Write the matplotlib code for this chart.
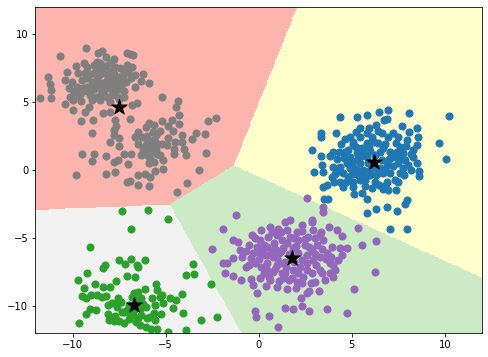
import numpy as np
import matplotlib
matplotlib.use("Agg")
import matplotlib.pyplot as plt
from matplotlib.colors import ListedColormap

# cluster centres (stars)
centers = [(-7.53, 4.62), (6.19, 0.61), (1.77, -6.52), (-6.69, -9.96)]
point_colors = ['tab:gray', 'tab:blue', 'tab:purple', 'tab:green']
region_colors = ['#fbb4ae', '#ffffcc', '#ccebc5', '#f2f2f2']

# points, one list per cluster
gray_pts = [
    (-10.70, 8.41), (-11.74, 5.29), (-11.16, 5.29), (-11.16, 5.90), (-11.2, 6.34), (-11.32, 6.88),
    (-9.27, 8.97), (-8.66, 8.61), (-8.41, 8.80), (-8.19, 8.31), (-7.80, 8.16), (-7.08, 8.61),
    (-6.78, 8.48), (-6.94, 8.56), (-6.19, 7.08), (-5.92, 6.44), (-6.31, 6.56), (-6.67, 6.10),
    (-6.87, 6.76), (-10.32, 7.23), (-9.73, 7.18), (-10.43, 6.64), (-10.21, 6.02), (-10.43, 4.84),
    (-9.95, 4.40), (-9.98, 5.16), (-9.55, 5.11), (-9.12, 4.62), (-9.34, 4.30), (-9.53, 3.64),
    (-8.91, 3.69), (-8.94, 2.70), (-8.37, 4.18), (-7.98, 4.30), (-7.48, 5.21), (-6.82, 4.79),
    (-6.55, 4.92), (-6.94, 3.76), (-7.71, 3.69), (-7.66, 3.25), (-7.75, 2.95), (-7.76, 2.61),
    (-5.19, 5.36), (-4.35, 5.11), (-4.44, 4.62), (-4.28, 4.06), (-4.68, 3.69), (-4.26, 3.39),
    (-5.19, 3.59), (-2.75, 3.61), (-2.27, 3.81), (-2.91, 2.66), (-3.36, 2.70), (-3.58, 2.26),
    (-4.13, 2.58), (-4.63, 2.90), (-4.88, 2.34), (-4.49, 2.04), (-3.99, 1.52), (-3.92, 1.11),
    (-4.54, 1.18), (-4.56, 1.52), (-2.81, 1.23), (-3.20, -0.02), (-3.86, -0.93), (-4.37, -1.65),
    (-5.12, 0.05), (-5.16, 0.74), (-5.44, 1.18), (-5.21, 1.92), (-5.58, -0.05), (-5.85, -0.54),
    (-6.10, -0.30), (-6.48, -0.37), (-5.87, -1.18), (-6.46, -1.11), (-6.91, -0.79), (-7.05, -0.86),
    (-7.03, 0.42), (-6.85, 1.18), (-7.26, 1.18), (-7.57, 0.76), (-7.78, 0.61), (-8.18, 1.06),
    (-7.74, -0.12), (-8.19, -0.30), (-8.84, 1.18), (-8.98, 0.64), (-9.52, 1.18), (-9.84, -0.37),
    (-7.99, 2.09), (-7.53, 1.79), (-7.48, 2.34), (-6.64, 2.46), (-6.51, 2.83), (-6.28, 2.41),
    (-6.06, 3.15), (-5.87, 3.49), (-5.65, 3.29), (-5.69, 2.78), (-6.01, 2.02), (-5.83, 2.09),
    (-5.65, 2.21), (-6.15, 1.72), (-5.87, 1.60), (-5.74, 1.35), (-5.62, 1.72), (-5.51, 1.52),
    (-5.99, 1.08), (-5.83, 0.79), (-5.65, 0.61), (-6.35, 1.11), (-5.28, 2.90), (-5.51, 2.58),
    (-4.86, 3.25), (-4.94, 1.84), (-4.13, 2.09),
    (-9.41, 7.92), (-9.20, 7.62), (-8.87, 7.75), (-8.52, 7.87), (-8.25, 7.67), (-7.98, 7.87),
    (-7.71, 7.62), (-7.44, 7.50), (-7.23, 7.25), (-7.01, 7.25), (-9.34, 7.18), (-9.06, 7.08),
    (-8.80, 7.25), (-8.57, 7.01), (-8.34, 7.13), (-8.07, 7.01), (-7.80, 7.08), (-7.53, 6.88),
    (-7.30, 6.93), (-9.50, 6.64), (-9.23, 6.76), (-8.96, 6.52), (-8.70, 6.64), (-8.43, 6.44),
    (-8.16, 6.64), (-7.89, 6.44), (-7.62, 6.52), (-7.35, 6.39), (-7.12, 6.52), (-9.77, 6.15),
    (-9.45, 6.02), (-9.20, 6.10), (-8.87, 5.95), (-8.61, 6.10), (-8.30, 5.90), (-8.02, 6.02),
    (-7.76, 5.90), (-7.48, 5.95), (-7.26, 5.85), (-9.55, 5.66), (-9.06, 5.53), (-8.75, 5.41),
    (-8.48, 5.61), (-8.16, 5.41), (-7.89, 5.53), (-7.57, 5.41), (-7.26, 5.41), (-8.94, 5.16),
    (-8.52, 5.16), (-7.98, 5.04), (-10.04, 6.52), (-9.91, 5.78), (-10.12, 5.41), (-7.08, 7.75),
    (-6.82, 7.62), (-6.67, 7.01), (-9.80, 7.67), (-9.63, 5.46),
    (-8.5, 7.4), (-8.0, 7.3), (-8.7, 6.9), (-8.2, 6.2), (-7.9, 6.8), (-8.4, 5.7),
    (-7.7, 6.2), (-8.9, 6.3), (-9.2, 5.8), (-7.4, 6.1), (-7.8, 5.7), (-8.7, 8.0),
    (-6.0, 2.5), (-5.8, 1.9), (-6.2, 1.5), (-5.5, 2.0), (-6.0, 1.3), (-5.3, 1.1),
    (-6.5, 1.9), (-5.9, 0.5),
]

blue_pts = [
    (4.36, 3.88), (5.30, 3.88), (5.80, 4.06), (6.48, 4.30), (6.96, 4.43), (8.09, 4.23),
    (10.23, 3.98), (9.70, 2.02), (10.04, 0.79), (3.36, 2.70), (3.36, 2.46), (4.15, 2.70),
    (2.84, 1.48), (3.33, 1.03), (3.38, 0.37), (2.99, -0.17), (3.43, -0.15), (3.65, -1.11),
    (3.43, -1.23), (3.51, -2.16), (3.74, -2.16), (4.06, -0.86), (4.54, -1.23), (5.04, -1.23),
    (5.12, -1.77), (5.53, -1.72), (5.80, -2.14), (5.80, -3.20), (6.30, -2.90), (6.91, -2.75),
    (7.44, -3.00), (7.05, -4.38), (7.98, -4.38), (7.85, -2.51), (7.94, -2.21), (7.37, -1.48),
    (6.96, -1.48), (6.65, -1.43), (8.62, -0.44), (8.62, -0.05), (8.48, 0.49), (8.27, 0.93),
    (8.16, 1.18), (8.48, 1.84), (8.57, 2.46), (8.48, 3.07), (8.09, 2.83), (7.71, 3.25),
    (7.98, 2.21), (7.37, 2.02), (6.73, 3.69), (6.91, 3.74), (6.30, 3.32), (5.94, 3.07),
    (5.44, 3.07), (5.44, 2.46), (5.04, 2.09), (5.04, 1.84), (4.63, 2.26), (4.40, 1.92),
    (4.01, 1.35), (3.83, 1.03), (4.19, 0.79), (4.36, 0.25), (4.54, -0.25), (4.81, -0.49),
    (5.04, -0.86), (5.35, -0.37), (5.62, 0.00), (5.71, -0.74), (6.24, -0.86), (6.48, -1.11),
    (6.87, -0.86), (7.32, -0.74), (7.58, -0.25), (7.76, 0.12), (8.03, 0.37), (7.49, 0.49),
    (7.23, 0.98), (7.05, 1.35), (6.69, 1.60), (6.42, 1.97), (6.06, 2.46), (5.80, 2.02),
    (5.53, 1.60), (5.26, 1.23), (4.90, 0.98), (4.72, 0.49), (5.08, 0.25), (5.44, 0.49),
    (5.80, 0.98), (6.24, 1.11), (6.60, 0.74), (6.87, 0.37), (6.51, 0.12), (6.15, 0.25),
    (5.89, 0.49), (5.44, -0.74), (5.98, -0.37), (7.05, -0.25), (6.69, -0.25), (7.41, 1.35),
    (7.76, 1.23), (7.58, 1.72), (6.96, 2.46), (6.60, 2.70), (7.23, 2.70), (4.29, 1.35),
    (4.63, 1.35), (4.01, 0.25), (3.92, -0.49), (4.36, -0.86), (4.90, 0.12), (5.26, 0.74),
    (8.30, 1.48), (7.85, 0.74), (5.62, 1.35), (5.94, 1.72),
    (5.0, 0.6), (5.3, 0.0), (5.6, -0.3), (6.0, 0.0), (6.3, -0.4), (6.8, 0.1),
    (7.2, 0.3), (7.0, 0.8), (6.5, 1.3), (6.0, 1.4), (5.5, 1.0), (5.2, 1.7),
    (4.8, 1.5), (4.6, 0.9), (4.3, -0.1), (5.0, -0.3), (5.7, -1.2), (6.1, -1.3),
    (6.8, -1.2), (7.5, -0.9), (7.8, -0.4), (8.2, 0.0), (7.6, 0.9), (7.9, 1.8),
    (6.8, 1.9), (6.2, 2.1), (5.8, 2.7), (5.2, 2.8), (4.9, 2.4), (6.4, 2.9),
    (7.5, 2.4), (4.1, -0.3), (4.7, -0.9), (6.4, -0.2),
]

purple_pts = [
    (2.61, -2.09), (3.43, -2.75), (3.47, -3.07), (2.88, -3.81), (3.36, -4.55), (3.76, -4.18),
    (4.19, -4.43), (4.45, -4.87), (4.72, -5.78), (5.35, -4.30), (5.53, -5.53), (6.30, -5.21),
    (6.24, -7.55), (5.12, -8.80), (4.72, -10.57), (3.69, -10.28), (2.72, -10.38), (2.31, -10.03),
    (1.86, -10.28), (1.41, -10.20), (1.04, -11.61), (0.57, -10.77), (-0.20, -10.38), (-0.16, -10.82),
    (-0.11, -9.05), (0.39, -8.56), (-1.22, -3.32), (-1.93, -4.38), (-2.49, -5.85), (-1.36, -5.16),
    (-1.09, -5.29), (-1.36, -6.52), (-1.93, -6.88), (-1.68, -6.83), (-1.81, -7.57), (-1.40, -7.82),
    (-0.97, -8.11), (-0.43, -8.06), (-0.29, -8.48), (0.07, -7.99), (0.57, -7.87), (0.97, -8.61),
    (1.32, -8.00), (1.54, -8.80), (2.00, -8.73), (2.27, -9.42), (2.58, -9.05), (2.72, -8.90),
    (3.26, -8.90), (3.83, -7.62), (4.10, -7.38), (4.27, -6.64), (4.45, -6.27), (4.36, -5.78),
    (3.92, -5.66), (3.47, -5.16), (3.29, -4.79), (2.93, -4.43), (2.31, -4.06), (1.68, -3.69),
    (1.41, -3.81), (1.06, -4.38), (0.61, -4.18), (0.11, -4.43), (-0.38, -4.79), (-0.50, -5.53),
    (-0.29, -6.15), (-0.20, -6.88), (0.11, -7.13), (0.43, -6.88), (0.75, -6.39), (1.11, -6.15),
    (1.14, -6.88), (1.47, -7.13), (1.86, -7.38), (2.22, -7.13), (2.58, -6.88), (2.93, -6.64),
    (3.29, -6.39), (3.65, -6.15), (3.83, -6.88), (3.29, -7.38), (2.84, -7.62), (2.40, -7.87),
    (2.04, -8.24), (1.65, -8.11), (1.25, -7.62), (0.79, -7.50), (0.43, -7.38), (0.07, -6.15),
    (0.43, -5.66), (0.82, -5.41), (1.23, -5.16), (1.68, -4.92), (2.13, -5.16), (2.49, -5.53),
    (2.84, -5.90), (3.11, -5.53), (2.65, -4.92), (2.04, -4.55), (1.50, -4.43), (0.97, -4.79),
    (0.52, -4.92), (0.07, -5.16), (-0.11, -5.66), (0.34, -6.27), (0.70, -5.90), (1.32, -5.78),
    (2.13, -6.15), (2.31, -6.64), (1.41, -6.76), (1.86, -5.78), (0.97, -7.00), (2.84, -3.69),
    (-0.91, -6.39), (-0.68, -7.13), (2.31, -8.36), (3.00, -8.24), (3.54, -8.11), (3.99, -7.87),
    (-0.2, -5.0), (0.3, -5.5), (0.9, -5.8), (1.5, -5.4), (1.9, -5.0), (2.5, -5.1),
    (3.0, -5.0), (3.4, -5.8), (3.0, -6.2), (2.6, -6.3), (1.9, -6.8), (1.6, -6.2),
    (1.0, -6.5), (0.5, -6.3), (0.0, -6.6), (-0.4, -6.5), (-0.5, -7.0), (0.3, -7.6),
    (0.9, -7.3), (1.4, -7.6), (2.1, -7.6), (2.6, -7.4), (3.1, -7.0), (3.6, -6.6),
    (3.9, -6.4), (4.0, -7.0), (1.2, -4.6), (2.3, -4.5), (0.7, -4.6), (-0.7, -6.0),
    (-1.0, -5.9), (1.8, -8.0), (2.8, -8.3), (1.1, -8.2), (0.6, -8.1), (3.4, -7.6),
    (2.0, -5.6), (2.7, -5.7), (1.2, -6.0), (0.2, -6.0),
]

green_pts = [
    (-7.32, -3.02), (-5.97, -2.95), (-4.90, -3.64), (-6.87, -4.38), (-9.09, -5.70), (-3.54, -6.96),
    (-3.92, -7.77), (-3.49, -7.70), (-2.59, -8.43), (-2.25, -10.87), (-3.11, -11.06), (-3.92, -11.80),
    (-4.08, -10.52), (-4.13, -9.17), (-4.44, -9.59), (-4.58, -10.20), (-4.76, -9.42), (-5.21, -9.22),
    (-5.12, -9.84), (-5.56, -9.96), (-5.53, -8.41), (-5.47, -8.85), (-5.33, -9.34), (-5.26, -10.62),
    (-5.65, -10.57), (-6.10, -8.80), (-6.13, -6.64), (-6.51, -7.13), (-6.55, -7.01), (-6.87, -6.59),
    (-7.17, -6.96), (-7.48, -6.64), (-7.06, -7.82), (-6.64, -7.87), (-6.69, -9.10), (-6.82, -9.34),
    (-6.51, -8.98), (-6.33, -9.47), (-6.06, -10.08), (-6.33, -10.70), (-6.51, -10.94), (-6.78, -10.70),
    (-6.99, -11.01), (-7.26, -11.26), (-7.23, -10.45), (-6.99, -9.96), (-7.39, -9.71), (-7.57, -9.47),
    (-7.89, -9.79), (-8.07, -9.96), (-8.19, -9.29), (-8.39, -8.65), (-8.37, -7.25), (-8.25, -7.01),
    (-7.69, -8.19), (-7.98, -8.61), (-8.78, -8.43), (-9.20, -7.57), (-9.73, -8.11), (-9.41, -8.73),
    (-9.50, -9.29), (-9.27, -9.47), (-9.02, -9.22), (-8.70, -9.22), (-8.43, -9.34), (-9.05, -10.28),
    (-8.75, -10.33), (-9.27, -10.62), (-9.63, -11.26), (-8.09, -10.62), (-8.05, -11.04), (-7.77, -11.11),
    (-7.71, -10.75), (-7.48, -11.11), (-6.60, -11.23), (-6.37, -11.43), (-6.06, -11.60), (-5.80, -11.73),
    (-5.44, -11.73), (-4.90, -11.97), (-5.83, -10.82), (-5.55, -11.06), (-5.98, -10.94), (-6.33, -10.20),
    (-5.72, -9.47), (-7.60, -10.08), (-7.33, -10.45),
    (-6.6, -9.6), (-7.1, -10.3), (-6.9, -10.7), (-6.2, -9.9), (-6.7, -10.3), (-7.6, -9.9),
]

clusters = [gray_pts, blue_pts, purple_pts, green_pts]

# figure: 488x357 px
fig = plt.figure(figsize=(488 / 72, 357 / 72), dpi=72)
ax = fig.add_axes([0.0724, 0.068, 0.9156, 0.9116])

# nearest-centre regions for the background
c = np.array(centers)
xx, yy = np.meshgrid(np.linspace(-12, 12, 500), np.linspace(-12, 12, 500))
d = (xx[..., None] - c[:, 0]) ** 2 + (yy[..., None] - c[:, 1]) ** 2
labels = d.argmin(axis=2)
ax.imshow(labels, extent=(-12, 12, -12, 12), origin='lower', aspect='auto',
          cmap=ListedColormap(region_colors), vmin=-0.5, vmax=3.5, interpolation='nearest')

for pts, col in zip(clusters, point_colors):
    p = np.array(pts)
    ax.scatter(p[:, 0], p[:, 1], s=50, color=col)

ax.scatter(c[:, 0], c[:, 1], marker='*', s=260, color='black')

ax.set_xlim(-12, 12)
ax.set_ylim(-12, 12)
ax.set_xticks([-10, -5, 0, 5, 10])
ax.set_yticks([-10, -5, 0, 5, 10])

fig.savefig('out.png', dpi=72)
